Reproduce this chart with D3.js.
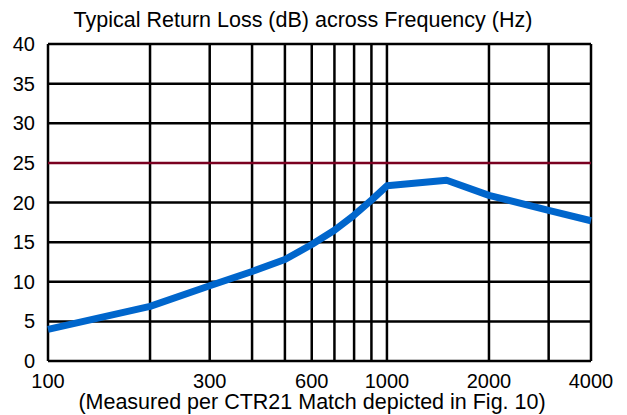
<!DOCTYPE html>
<html>
<head>
<meta charset="utf-8">
<script src="https://cdn.jsdelivr.net/npm/d3@7"></script>
<style>
  body { margin: 0; background: #fff; }
  svg { display: block; font-family: "Liberation Sans", Arial, sans-serif; }
</style>
</head>
<body>
<svg id="chart" width="627" height="415"></svg>
<script>
// data
const freqs = [100, 200, 300, 400, 500, 600, 700, 800, 900, 1000, 1500, 2000, 3000, 4000];
const returnLoss = [4.0, 6.9, 9.5, 11.3, 12.8, 14.7, 16.5, 18.4, 20.3, 22.1, 22.8, 20.9, 19.0, 17.7];
const limit = 25;
const xGrid = [100, 200, 300, 400, 500, 600, 700, 800, 900, 1000, 2000, 3000, 4000];
const xLabels = [100, 300, 600, 1000, 2000, 4000];
const yTicks = [0, 5, 10, 15, 20, 25, 30, 35, 40];

const svg = d3.select("#chart");
const plotL = 48, plotR = 591, plotT = 44, plotB = 361;

const x = d3.scaleLog().domain([100, 4000]).range([plotL, plotR]);
const y = d3.scaleLinear().domain([0, 40]).range([plotB, plotT]);

// title
svg.append("text")
  .attr("x", 303).attr("y", 27)
  .attr("text-anchor", "middle")
  .attr("font-size", "21.5px")
  .text("Typical Return Loss (dB) across Frequency (Hz)");

// horizontal grid
svg.append("g").selectAll("line")
  .data(yTicks.filter(d => d !== limit)).enter().append("line")
  .attr("x1", plotL).attr("x2", plotR)
  .attr("y1", d => y(d)).attr("y2", d => y(d))
  .attr("stroke", "#000").attr("stroke-width", 2.5);

// vertical grid
svg.append("g").selectAll("line")
  .data(xGrid).enter().append("line")
  .attr("x1", d => x(d)).attr("x2", d => x(d))
  .attr("y1", plotT).attr("y2", plotB)
  .attr("stroke", "#000").attr("stroke-width", 2.5);

// limit line
svg.append("line")
  .attr("x1", plotL).attr("x2", plotR)
  .attr("y1", y(limit)).attr("y2", y(limit))
  .attr("stroke", "#7a0020").attr("stroke-width", 2.5);

// y labels
svg.append("g").selectAll("text")
  .data(yTicks).enter().append("text")
  .attr("x", 35).attr("y", d => y(d) + 7)
  .attr("text-anchor", "end")
  .attr("font-size", "20px")
  .text(d => d);

// x labels
svg.append("g").selectAll("text")
  .data(xLabels).enter().append("text")
  .attr("x", d => x(d)).attr("y", 388)
  .attr("text-anchor", "middle")
  .attr("font-size", "20px")
  .text(d => d);

svg.append("text")
  .attr("x", 312).attr("y", 409)
  .attr("text-anchor", "middle")
  .attr("font-size", "21.5px")
  .text("(Measured per CTR21 Match depicted in Fig. 10)");

// return loss curve
const line = d3.line()
  .x((d, i) => x(freqs[i]))
  .y(d => y(d));

svg.append("path")
  .datum(returnLoss)
  .attr("d", line)
  .attr("fill", "none")
  .attr("stroke", "#0066cc")
  .attr("stroke-width", 7)
  .attr("stroke-linejoin", "round");
</script>
</body>
</html>
